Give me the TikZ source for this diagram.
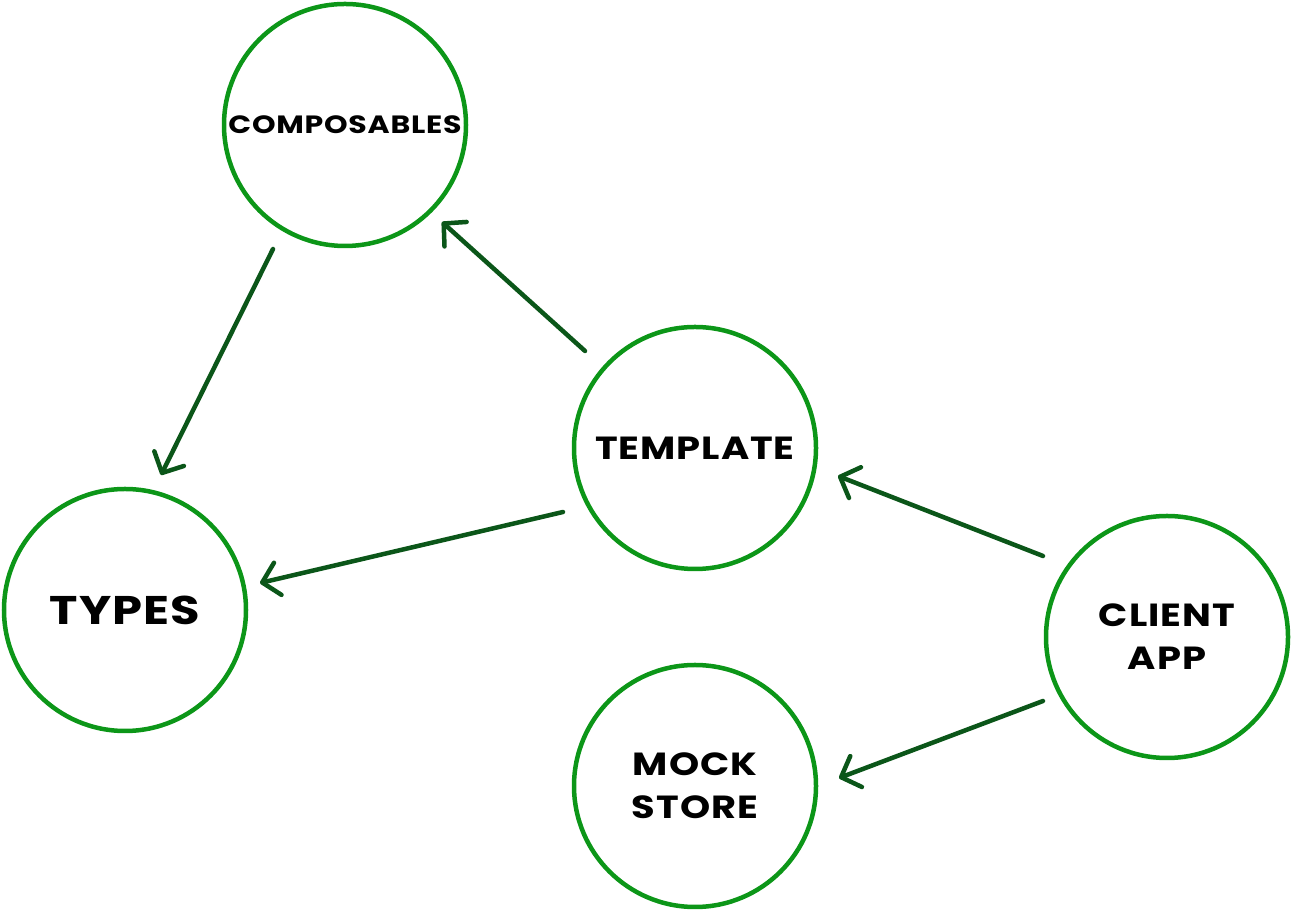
\documentclass[tikz,border=0pt]{standalone}
\usepackage{fontspec}
\setmainfont{Poppins}[FakeStretch=1.2, LetterSpace=3]
\usetikzlibrary{arrows.meta,calc}
\definecolor{ringgreen}{HTML}{0C9618}
\definecolor{arrowgreen}{HTML}{0B5619}
\tikzset{
  ring/.style={circle, draw=ringgreen, line width=4.5pt, minimum size=242pt, inner sep=0pt, align=center, font=\bfseries\fontsize{32}{43}\selectfont},
  link/.style={draw=arrowgreen, line width=4.5pt, line cap=round, line join=round, -{Straight Barb[length=16pt,width=33pt,line cap=round,line join=round]}}
}
\begin{document}
\begin{tikzpicture}[x=1pt,y=1pt]
\useasboundingbox (0,0) rectangle (1293,912);
\node[ring, font=\bfseries\fontsize{25}{34}\selectfont] (comp) at (345,787) {COMPOSABLES};
\node[ring] (tpl) at (695,464) {TEMPLATE};
\node[ring, font=\bfseries\fontsize{40}{48}\selectfont] (types) at (125,302) {TYPES};
\node[ring] (client) at (1167,275) {CLIENT\\APP};
\node[ring] (mock) at (695,126) {MOCK\\STORE};
\draw[link] ($(comp)+(-72,-124)$) -- ($(types)+(36,135)$);
\draw[link] ($(tpl)+(-110,97)$) -- ($(comp)+(97,-97)$);
\draw[link] ($(tpl)+(-132,-64)$) -- ($(types)+(135,27)$);
\draw[link] ($(client)+(-124,81)$) -- ($(tpl)+(143,-28)$);
\draw[link] ($(client)+(-124,-64)$) -- ($(mock)+(144,8)$);
\end{tikzpicture}
\end{document}
